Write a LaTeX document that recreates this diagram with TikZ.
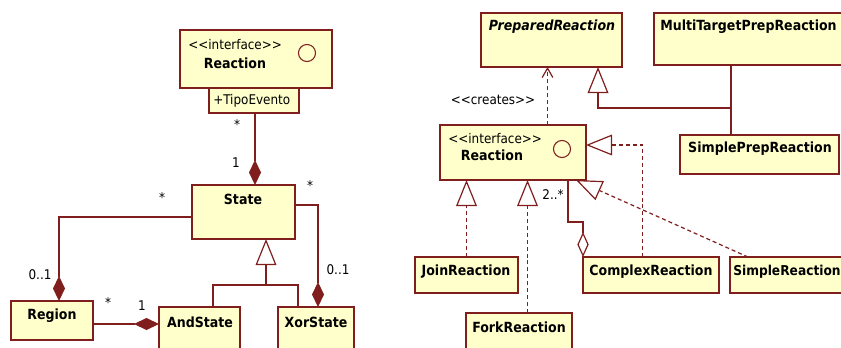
\documentclass[tikz,border=0pt]{standalone}
\usepackage{fontspec}
\setmainfont{DejaVu Sans Condensed}
\usetikzlibrary{arrows.meta,calc}
\definecolor{umlline}{RGB}{128,30,30}
\definecolor{umlfill}{RGB}{255,255,204}
% stereotype brackets kept as two separate angle signs
\newcommand{\stereo}[1]{<\kern0pt<#1>\kern0pt>}
\begin{document}
\begin{tikzpicture}[x=0.75pt,y=-0.75pt,
  cls/.style={draw=umlline, fill=umlfill, line width=1.1pt, inner sep=0pt, outer sep=0pt},
  box/.style 2 args={minimum width=#1*0.75pt, minimum height=#2*0.75pt, anchor=north west},
  cname/.style={font=\fontsize{10.5}{12}\selectfont\bfseries, inner sep=0pt},
  ster/.style={font=\fontsize{10}{12}\selectfont, inner sep=0pt},
  mult/.style={font=\fontsize{10}{12}\selectfont, inner sep=0pt},
  link/.style={draw=umlline, line width=0.9pt},
  dep/.style={link, dash pattern=on 3pt off 2.2pt},
  comp/.style={-{Diamond[length=18.75pt,width=9pt,fill=umlline]}},
  aggr/.style={-{Diamond[open,length=18.75pt,width=8.5pt]}},
  gen/.style={-{Triangle[open,length=19.5pt,width=15.5pt]}},
  usedep/.style={-{Straight Barb[length=7pt,width=8pt]}},
  iface/.style={draw=umlline, line width=0.8pt},
]
\useasboundingbox (0,0) rectangle (841,347);
\clip (0,0) rectangle (841,347);

% ---------- state model ----------
\node[cls, box={152}{58}] (reacL) at (180,30) {};
\node[cls, box={90}{25}] (tipo) at (209,88) {};
\node[cls, box={103}{54}] (state) at (192,185) {};
\node[cls, box={82}{39}] (region) at (11,301) {};
\node[cls, box={81}{50}] (andst) at (159,307) {};
\node[cls, box={76}{50}] (xorst) at (278,307) {};

\node[ster, anchor=west] (ifL) at (188,45) {\stereo{interface}};
\node[cname] (nReacL) at (235,63) {Reaction};
\draw[iface] (307,53) circle[radius=6.4pt];
\node[ster, anchor=west] (nTipo) at (213,101) {+TipoEvento};
\node[cname] (nState) at (243,199) {State};
\node[cname] (nRegion) at (52,316) {Region};
\node[cname] (nAnd) at (200,322) {AndState};
\node[cname] (nXor) at (316,322) {XorState};

\draw[link, comp] ($(tipo.south west)+(46,0)$) -- ($(state.north west)+(63,0)$);
\draw[link, comp] ($(state.north west)+(0,32)$) -| ($(region.north west)+(48,0)$);
\draw[link, comp] ($(state.north east)+(0,20)$) -| ($(xorst.north west)+(40,0)$);
\draw[link, comp] ($(region.north east)+(0,23)$) -- ($(andst.north west)+(0,17)$);

\coordinate (gj) at (266,285);
\draw[link, gen] (gj) -- (state.south -| gj);
\draw[link] ($(andst.north west)+(54,0)$) |- (gj) -| ($(xorst.north west)+(20,0)$);

\node[mult] (m1) at (237,125) {*};
\node[mult] (m2) at (236,163) {1};
\node[mult] (m3) at (162,198) {*};
\node[mult] (m4) at (40,275) {0..1};
\node[mult] (m5) at (310,186) {*};
\node[mult] (m6) at (338,270) {0..1};
\node[mult] (m7) at (108,303) {*};
\node[mult] (m8) at (142,306) {1};

% ---------- reaction model ----------
\node[cls, box={141}{54}] (prep) at (481,13) {};
\node[cls, box={195}{52}] (multi) at (654,13) {};
\node[cls, box={159}{39}] (sprep) at (680,135) {};
\node[cls, box={146}{55}] (reacR) at (440,125) {};
\node[cls, box={103}{36}] (join) at (415,257) {};
\node[cls, box={106}{50}] (fork) at (466,313) {};
\node[cls, box={136}{36}] (cplx) at (583,257) {};
\node[cls, box={120}{36}] (simple) at (730,257) {};

\node[cname, font=\fontsize{10.5}{12}\selectfont\bfseries\itshape] (nPrep) at (552,27) {PreparedReaction};
\node[cname, anchor=west] (nMulti) at (660,27) {MultiTargetPrepReaction};
\node[cname] (nSPrep) at (760,149) {SimplePrepReaction};
\node[ster, anchor=west] (ifR) at (448,139) {\stereo{interface}};
\node[cname] (nReacR) at (492,155) {Reaction};
\draw[iface] (562,149) circle[radius=6.4pt];
\node[cname] (nJoin) at (466,272) {JoinReaction};
\node[cname] (nFork) at (519,327) {ForkReaction};
\node[cname] (nCplx) at (651,272) {ComplexReaction};
\node[cname, anchor=west, font=\fontsize{10.2}{12}\selectfont\bfseries] (nSimple) at (733,272) {SimpleReaction};

\draw[dep, usedep] ($(reacR.north west)+(107.5,0)$) coordinate (c1) -- (c1 |- prep.south);
\node[ster] (creates) at (493,100) {\stereo{creates}};

\coordinate (pj) at (731,108);
\draw[link, gen] (pj) -| ($(prep.south west)+(117,0)$);
\draw[link] (multi.south -| pj) -- (sprep.north -| pj);

\draw[dep, gen] (join.north) -- (join.north |- reacR.south);
\draw[dep, gen] ($(fork.north west)+(61.5,0)$) coordinate (c2) -- (c2 |- reacR.south);
\draw[dep, gen] ($(cplx.north west)+(59.5,0)$) |- ($(reacR.north east)+(0,20)$);
\draw[dep, gen] ($(simple.north west)+(18,0)$) -- ($(reacR.south west)+(136,0)$);
\draw[link, aggr] ($(reacR.south west)+(128,0)$) |- ($(cplx.north west)+(0,-35)$) -- (cplx.north west);
\node[mult] (m9) at (553,195) {2..*};
\end{tikzpicture}
\end{document}
